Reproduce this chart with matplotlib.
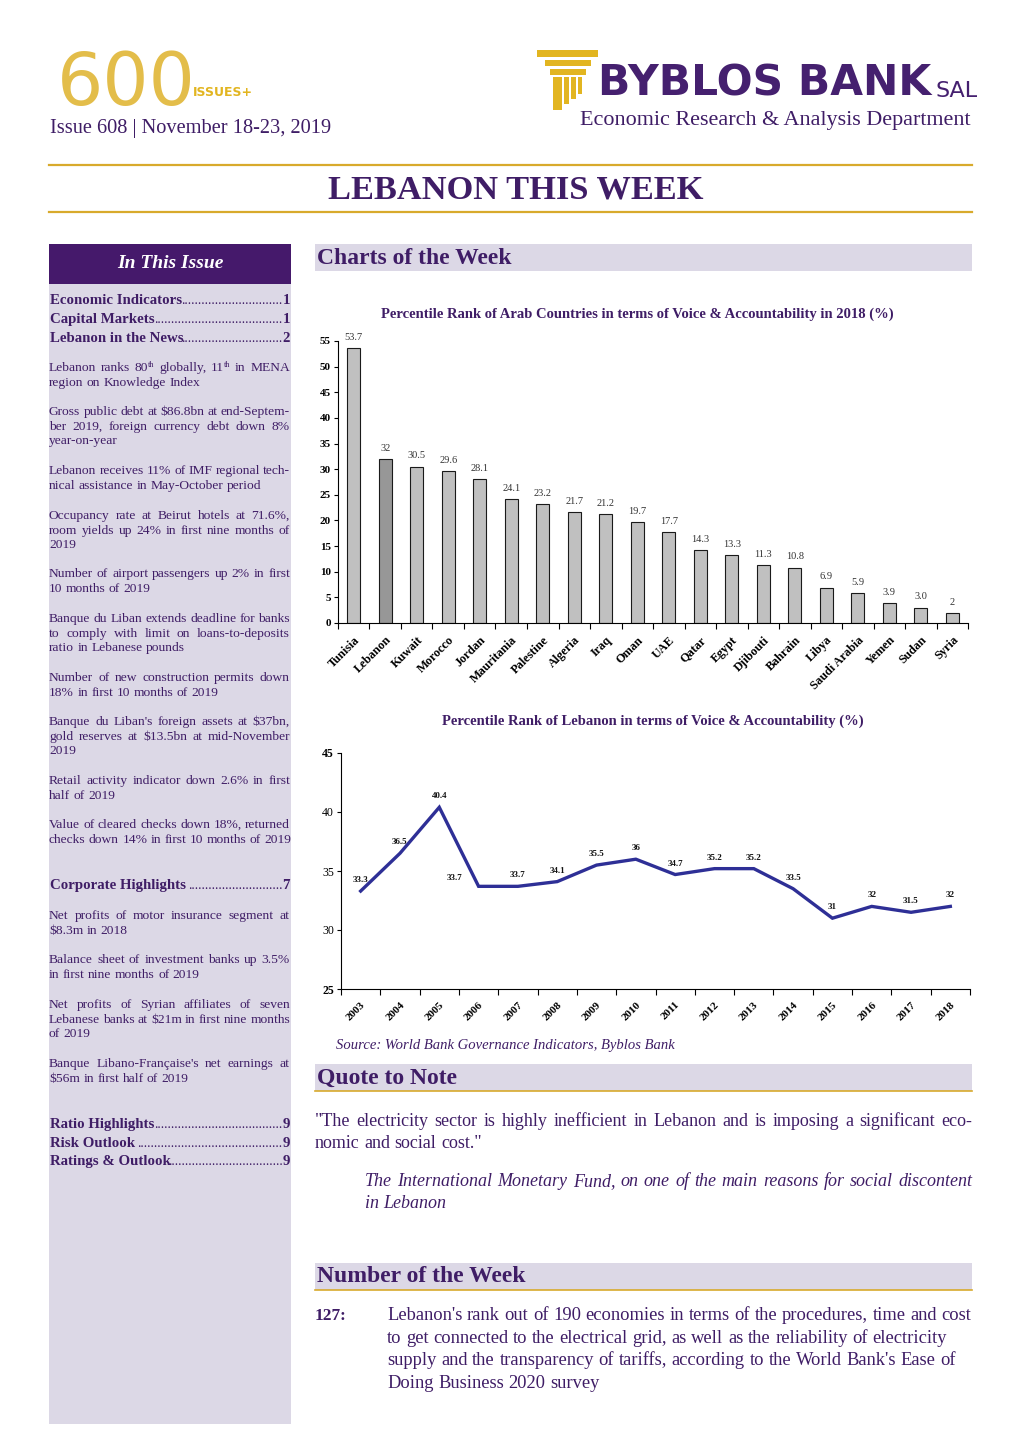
import matplotlib
matplotlib.use("Agg")
import matplotlib.pyplot as plt
from matplotlib.patches import Rectangle
import numpy as np

# --- data -------------------------------------------------------------------
countries = ["Tunisia", "Lebanon", "Kuwait", "Morocco", "Jordan", "Mauritania",
             "Palestine", "Algeria", "Iraq", "Oman", "UAE", "Qatar", "Egypt",
             "Djibouti", "Bahrain", "Libya", "Saudi Arabia", "Yemen", "Sudan", "Syria"]
scores = [53.7, 32, 30.5, 29.6, 28.1, 24.1, 23.2, 21.7, 21.2, 19.7, 17.7,
          14.3, 13.3, 11.3, 10.8, 6.9, 5.9, 3.9, 3.0, 2]
score_labels = ["53.7", "32", "30.5", "29.6", "28.1", "24.1", "23.2", "21.7", "21.2",
                "19.7", "17.7", "14.3", "13.3", "11.3", "10.8", "6.9", "5.9", "3.9",
                "3.0", "2"]

years = ["2003", "2004", "2005", "2006", "2007", "2008", "2009", "2010",
         "2011", "2012", "2013", "2014", "2015", "2016", "2017", "2018"]
lebanon = [33.3, 36.5, 40.4, 33.7, 33.7, 34.1, 35.5, 36, 34.7, 35.2, 35.2,
           33.5, 31, 32, 31.5, 32]
lebanon_labels = ["33.3", "36.5", "40.4", "33.7", "33.7", "34.1", "35.5", "36",
                  "34.7", "35.2", "35.2", "33.5", "31", "32", "31.5", "32"]

toc_top = [("Economic Indicators", "1"), ("Capital Markets", "1"),
           ("Lebanon in the News", "2")]
news = [
    ["Lebanon ranks 80^th globally, 11^th in MENA", "region on Knowledge Index"],
    ["Gross public debt at $86.8bn at end-Septem-", "ber 2019, foreign currency debt down 8%",
     "year-on-year"],
    ["Lebanon receives 11% of IMF regional tech-", "nical assistance in May-October period"],
    ["Occupancy rate at Beirut hotels at 71.6%,", "room yields up 24% in first nine months of",
     "2019"],
    ["Number of airport passengers up 2% in first", "10 months of 2019"],
    ["Banque du Liban extends deadline for banks", "to comply with limit on loans-to-deposits",
     "ratio in Lebanese pounds"],
    ["Number of new construction permits down", "18% in first 10 months of 2019"],
    ["Banque du Liban's foreign assets at $37bn,", "gold reserves at $13.5bn at mid-November",
     "2019"],
    ["Retail activity indicator down 2.6% in first", "half of 2019"],
    ["Value of cleared checks down 18%, returned", "checks down 14% in first 10 months of 2019"],
]
corporate = [
    ["Net profits of motor insurance segment at", "$8.3m in 2018"],
    ["Balance sheet of investment banks up 3.5%", "in first nine months of 2019"],
    ["Net profits of Syrian affiliates of seven", "Lebanese banks at $21m in first nine months",
     "of 2019"],
    ["Banque Libano-Française's net earnings at", "$56m in first half of 2019"],
]
toc_bottom = [("Ratio Highlights", "9"), ("Risk Outlook ", "9"), ("Ratings & Outlook", "9")]

quote = ['"The electricity sector is highly inefficient in Lebanon and is imposing a significant eco-',
         'nomic and social cost."']
quote_by = ["The International Monetary Fund, on one of the main reasons for social discontent",
            "in Lebanon"]
number_lines = ["Lebanon's rank out of 190 economies in terms of the procedures, time and cost",
                "to get connected to the electrical grid, as well as the reliability of electricity",
                "supply and the transparency of tariffs, according to the World Bank's Ease of",
                "Doing Business 2020 survey"]

# --- style ------------------------------------------------------------------
W, H = 1020, 1442
PURPLE = "#3f1d66"
HEAD = "#45196b"
LAV = "#dcd8e6"
GOLD = "#d8aa2c"
LOGO_GOLD = "#e2b520"
SERIF = ["Liberation Serif", "DejaVu Serif"]
plt.rcParams["font.family"] = SERIF

fig = plt.figure(figsize=(W / 100, H / 100), dpi=100)
page = fig.add_axes([0, 0, 1, 1])
page.set_xlim(0, W)
page.set_ylim(H, 0)
page.axis("off")
renderer = fig.canvas.get_renderer()


def width_of(t):
    return t.get_window_extent(renderer).width


def fit_text(x, y, s, width, **kw):
    t = page.text(x, y, s, fontsize=10, **kw)
    t.set_fontsize(10 * width / width_of(t))
    return t


def word_parts(x, y, word, fs, **kw):
    """Draw a word (base^sup) starting at x; return total width."""
    if "^" in word:
        base, sup = word.split("^", 1)
        t1 = page.text(x, y, base, fontsize=fs, va="baseline", **kw)
        w1 = width_of(t1)
        t2 = page.text(x + w1, y - fs * 0.45, sup, fontsize=fs * 0.6, va="baseline", **kw)
        return w1 + width_of(t2), [t1, t2]
    t = page.text(x, y, word, fontsize=fs, va="baseline", **kw)
    return width_of(t), [t]


def text_line(x0, x1, y, line, fs, justify=True, **kw):
    words = line.split(" ")
    placed = []
    x = x0
    space = width_of(page.text(0, 0, "a a", fontsize=fs, alpha=0, **kw)) - \
        width_of(page.text(0, 0, "aa", fontsize=fs, alpha=0, **kw))
    for w in words:
        wd, ts = word_parts(x, y, w, fs, **kw)
        placed.append((wd, ts))
        x += wd + space
    if justify and len(words) > 1:
        total = sum(p[0] for p in placed)
        gap = (x1 - x0 - total) / (len(words) - 1)
        x = x0
        for wd, ts in placed:
            dx = x - ts[0].get_position()[0]
            for t in ts:
                px, py = t.get_position()
                t.set_position((px + dx, py))
            x += wd + gap


def paragraph(x0, x1, y, lines, fs, step, **kw):
    for i, ln in enumerate(lines):
        text_line(x0, x1, y + i * step, ln, fs, justify=(i < len(lines) - 1), **kw)


def toc_entry(y, label, num):
    t = page.text(50, y, label, fontsize=10.7, fontweight="bold", color=PURPLE, va="baseline")
    n = page.text(290, y, num, fontsize=10.7, fontweight="bold", color=PURPLE, va="baseline",
                  ha="right")
    left = 50 + width_of(t)
    right = 290 - width_of(n)
    dw = width_of(page.text(0, 0, "..........", fontsize=10, alpha=0)) / 10
    ndots = int(round((right - left) / dw + 0.4))
    page.text(right, y, "." * ndots, fontsize=10, color=PURPLE, va="baseline", ha="right")


# --- masthead ---------------------------------------------------------------
fit_text(57, 84, "600", 138, color="#e3bd4a", family="DejaVu Sans", va="center")
fit_text(193, 92, "ISSUES+", 60, color=LOGO_GOLD, family="DejaVu Sans", fontweight="bold",
         va="center")
fit_text(50, 128, "Issue 608 | November 18-23, 2019", 281, color=PURPLE, va="center")

for (x, y, w, h) in [(537, 50, 61, 7), (545, 60, 46, 6), (550, 69, 36, 6),
                     (553, 77, 9, 33), (564, 77, 5, 27), (571, 77, 5, 22), (578, 77, 4, 17)]:
    page.add_patch(Rectangle((x, y), w, h, color=LOGO_GOLD, lw=0))
fit_text(598, 84, "BYBLOS BANK", 334, color="#45206f", family="DejaVu Sans",
         fontweight="bold", va="center")
fit_text(936, 91, "SAL", 42, color="#45206f", family="DejaVu Sans", va="center")
fit_text(580, 120, "Economic Research & Analysis Department", 391, color=PURPLE, va="center")

page.plot([49, 972], [165, 165], color=GOLD, lw=1.6)
page.plot([49, 972], [212, 212], color=GOLD, lw=1.6)
fit_text(328, 190, "LEBANON THIS WEEK", 374, color=PURPLE, fontweight="bold", va="center")

# --- sidebar ----------------------------------------------------------------
page.add_patch(Rectangle((49, 284), 242, 1140, color=LAV, lw=0))
page.add_patch(Rectangle((49, 244), 242, 40, color=HEAD, lw=0))
page.text(170, 264, "In This Issue", fontsize=14, fontweight="bold", style="italic",
          color="white", ha="center", va="center")

for (label, num), y in zip(toc_top, [304, 323, 342]):
    toc_entry(y, label, num)
news_y = [371, 415, 474, 519, 577, 622, 681, 725, 784, 828]
for lines, y in zip(news, news_y):
    paragraph(49, 290, y, lines, 9.7, 14.7, color=PURPLE)
toc_entry(889, "Corporate Highlights ", "7")
corp_y = [919, 963, 1008, 1067]
for lines, y in zip(corporate, corp_y):
    paragraph(49, 290, y, lines, 9.7, 14.7, color=PURPLE)
for (label, num), y in zip(toc_bottom, [1128, 1147, 1165]):
    toc_entry(y, label, num)

# --- section headers ----------------------------------------------------------
for y0, title, underline in [(244, "Charts of the Week", False),
                             (1064, "Quote to Note", True),
                             (1263, "Number of the Week", True)]:
    page.add_patch(Rectangle((315, y0), 657, 27, color=LAV, lw=0))
    if underline:
        page.plot([315, 972], [y0 + 27, y0 + 27], color=GOLD, lw=1.2)
    page.text(317, y0 + 14, title, fontsize=17, fontweight="bold", color=PURPLE, va="center")

# --- bar chart -----------------------------------------------------------------
page.text(637, 314, "Percentile Rank of Arab Countries in terms of Voice & Accountability in 2018 (%)",
          fontsize=10.5, fontweight="bold", color=PURPLE, ha="center", va="center")
ax1 = fig.add_axes([338 / W, 1 - 623 / H, 630 / W, 282 / H])
xpos = np.arange(len(countries))
bar_colors = ["#c0c0c0"] * len(countries)
bar_colors[countries.index("Lebanon")] = "#979797"
ax1.bar(xpos, scores, width=0.42, color=bar_colors, edgecolor="#1a1a1a", linewidth=0.8)
for xi, v, lab in zip(xpos, scores, score_labels):
    ax1.text(xi, v + 1.2, lab, ha="center", va="bottom", fontsize=7.5, color="#333333")
ax1.set_xlim(-0.5, len(countries) - 0.5)
ax1.set_ylim(0, 55)
ax1.set_yticks(np.arange(0, 56, 5))
ax1.tick_params(axis="y", labelsize=8, length=3, width=0.8, pad=2)
for t in ax1.get_yticklabels():
    t.set_fontweight("bold")
ax1.set_xticks(np.arange(-0.5, len(countries), 1))
ax1.set_xticklabels([])
ax1.tick_params(axis="x", which="major", length=4, width=0.8, direction="out")
ax1.set_xticks(xpos, minor=True)
ax1.set_xticklabels(countries, minor=True, rotation=45, ha="right", rotation_mode="anchor",
                    fontsize=8.8, fontweight="bold")
ax1.tick_params(axis="x", which="minor", length=0, pad=8)
for s in ["top", "right"]:
    ax1.spines[s].set_visible(False)
ax1.spines["left"].set_linewidth(0.8)
ax1.spines["bottom"].set_linewidth(0.8)
ax1.patch.set_alpha(0)

# --- line chart -----------------------------------------------------------------
page.text(653, 721, "Percentile Rank of Lebanon in terms of Voice & Accountability (%)",
          fontsize=10.5, fontweight="bold", color=PURPLE, ha="center", va="center")
ax2 = fig.add_axes([341 / W, 1 - 989 / H, 629 / W, 236 / H])
ypos = np.arange(len(years))
ax2.plot(ypos, lebanon, color="#2e2f96", lw=2.4, solid_joinstyle="miter")
for i, (v, lab) in enumerate(zip(lebanon, lebanon_labels)):
    off = (-17, 3) if i == 3 else (0, 5)
    ax2.annotate(lab, (i, v), xytext=off, textcoords="offset points", ha="center",
                 va="bottom", fontsize=6.5, fontweight="bold", color="#111111")
ax2.set_xlim(-0.5, len(years) - 0.5)
ax2.set_ylim(25, 45)
ax2.set_yticks([25, 30, 35, 40, 45])
ax2.tick_params(axis="y", labelsize=8.5, length=3, width=0.8, pad=2)
for t in ax2.get_yticklabels():
    if t.get_text() in ("25", "45"):
        t.set_fontweight("bold")
ax2.set_xticks(np.arange(-0.5, len(years), 1))
ax2.set_xticklabels([])
ax2.tick_params(axis="x", which="major", length=4, width=0.8, direction="out")
ax2.set_xticks(ypos, minor=True)
ax2.set_xticklabels(years, minor=True, rotation=45, ha="right", rotation_mode="anchor",
                    fontsize=8, fontweight="bold")
ax2.tick_params(axis="x", which="minor", length=0, pad=8)
for s in ["top", "right"]:
    ax2.spines[s].set_visible(False)
ax2.spines["left"].set_linewidth(0.8)
ax2.spines["bottom"].set_linewidth(0.8)
ax2.patch.set_alpha(0)

page.text(336, 1046, "Source: World Bank Governance Indicators, Byblos Bank", fontsize=10.5,
          style="italic", color=PURPLE, va="center")

# --- quote & number -------------------------------------------------------------
paragraph(315, 972, 1126, quote, 13.0, 22.5, color=PURPLE)
paragraph(365, 972, 1186, quote_by, 13.0, 22.5, color=PURPLE, style="italic")
page.text(315, 1320, "127:", fontsize=12.5, fontweight="bold", color=PURPLE, va="baseline")
for i, ln in enumerate(number_lines):
    text_line(387, 972, 1320 + i * 22.6, ln, 13.3, justify=False, color=PURPLE)

fig.savefig("out.png", dpi=100, facecolor="white")
